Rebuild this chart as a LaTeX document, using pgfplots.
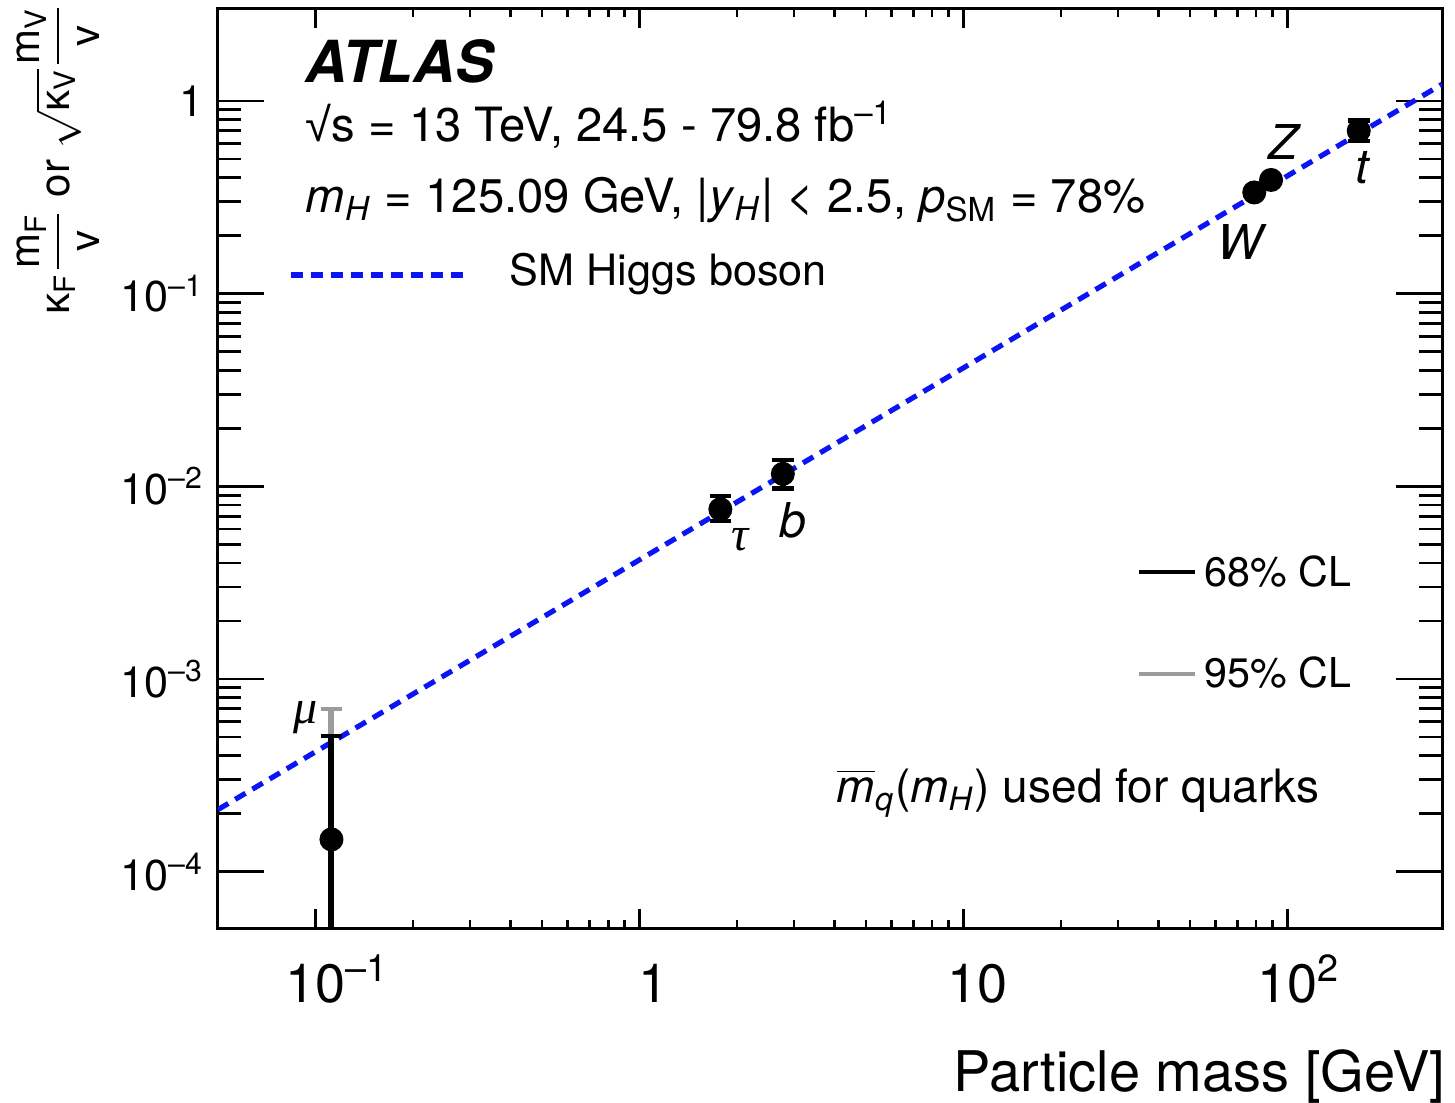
\documentclass[border=0pt]{standalone}
\usepackage{fontspec}
\setmainfont{TeX Gyre Heros}
\newfontfamily\gsans{Liberation Sans}
\newfontfamily\gserif{Liberation Serif}
\usepackage{amsmath}
\usepackage{pgfplots}
\pgfplotsset{compat=1.18}
\definecolor{smblue}{RGB}{10,20,245}
\definecolor{clgray}{RGB}{155,155,155}
\begin{document}
\begin{tikzpicture}
\useasboundingbox (-54.5pt,-43.5pt) rectangle (309.25pt,232pt);
\begin{axis}[
  at={(0,0)}, anchor=south west, scale only axis,
  width=306pt, height=229.75pt,
  xmode=log, ymode=log,
  xmin=0.05, xmax=300, ymin=5.1e-5, ymax=3,
  axis line style={line width=0.75pt},
  tick style={black, line width=0.7pt},
  major tick length=11.5pt, minor tick length=5.7pt,
  xtick style={/pgfplots/major tick length=4.75pt, /pgfplots/minor tick length=2pt},
  xtick={0.1,1,10,100},
  xticklabels={10\rlap{\textsuperscript{–1}}, \hspace*{7pt}1, \hspace*{7pt}10, 10\rlap{\textsuperscript{2}}},
  ytick={1e-4,1e-3,1e-2,1e-1,1},
  yticklabels={10\textsuperscript{–4},10\textsuperscript{–3},10\textsuperscript{–2},10\textsuperscript{–1},1},
  xticklabel style={anchor=base, yshift=-18.5pt, font=\fontsize{13.5}{14}\selectfont},
  yticklabel style={font=\fontsize{10.8}{12}\selectfont},
]
% SM Higgs boson line
\addplot[smblue, line width=1.3pt, dash pattern=on 3pt off 2pt] coordinates {(0.05,2.1e-4) (300,1.22)};
% muon 95% CL
\addplot[only marks, mark=none, error bars/.cd, y dir=plus, y explicit,
  error bar style={clgray, line width=1.5pt},
  error mark options={rotate=90, mark size=2.7pt, clgray, line width=1.2pt}]
  coordinates {(0.112,1.47e-4) += (0,5.51e-4)};
% muon 68% CL
\addplot[only marks, mark=*, mark size=2.8pt, black, mark options={fill=black},
  error bars/.cd, y dir=both, y explicit,
  error bar style={black, line width=1.5pt},
  error mark options={rotate=90, mark size=2.7pt, black, line width=1.2pt}]
  coordinates {(0.112,1.47e-4) += (0,3.59e-4) -= (0,1.46e-4)};
% tau, b, t
\addplot[only marks, mark=*, mark size=2.8pt, black, mark options={fill=black},
  error bars/.cd, y dir=both, y explicit,
  error bar style={black, line width=1.5pt},
  error mark options={rotate=90, mark size=2.7pt, black, line width=1.2pt}]
  coordinates {
  (1.777,7.6e-3) += (0,1.3e-3) -= (0,1.0e-3)
  (2.77,1.16e-2) += (0,2.1e-3) -= (0,1.9e-3)
  (166,0.70) += (0,0.09) -= (0,0.08)
  };
% W, Z
\addplot[only marks, mark=*, mark size=2.8pt, black, mark options={fill=black}]
  coordinates {(79,0.335) (89,0.389)};
\end{axis}
% annotations
\node[anchor=base west, inner sep=0pt, font=\fontsize{14.5}{16}\selectfont\bfseries\itshape] at (21.75pt,211.25pt) {ATLAS};
\node[anchor=base west, inner sep=0pt, font=\fontsize{11.8}{14}\selectfont] at (21.75pt,196.5pt) {{\gsans √}s = 13 TeV, 24.5 - 79.8 fb\textsuperscript{–1}};
\node[anchor=base west, inner sep=0pt, font=\fontsize{11.8}{14}\selectfont] at (21.75pt,178.75pt) {\textit{m}\textsubscript{\textit{H}} = 125.09 GeV, |\textit{y}\textsubscript{\textit{H}}| < 2.5, \textit{p}\textsubscript{SM} = 78\%};
\draw[smblue, line width=1.3pt, dash pattern=on 3pt off 2pt] (18.25pt,163.25pt) -- (62.5pt,163.25pt);
\node[anchor=base west, inner sep=0pt, font=\fontsize{10.8}{12}\selectfont] at (72.75pt,160.5pt) {SM Higgs boson};
\draw[black, line width=1pt] (230.25pt,89pt) -- (244.25pt,89pt);
\node[anchor=base west, inner sep=0pt, font=\fontsize{10.3}{12}\selectfont] at (246.5pt,85.25pt) {68\% CL};
\draw[clgray, line width=1.2pt] (230.25pt,63.5pt) -- (244.25pt,63.5pt);
\node[anchor=base west, inner sep=0pt, font=\fontsize{10.3}{12}\selectfont] at (246.5pt,60pt) {95\% CL};
\node[anchor=base west, inner sep=0pt, font=\fontsize{11.5}{14}\selectfont] at (154.5pt,31.25pt) {$\overline{\text{\textit{m}}}$\textsubscript{\textit{q}}(\textit{m}\textsubscript{\textit{H}}) used for quarks};
% particle labels
\node[font=\fontsize{12}{14}\selectfont\gserif\itshape] at (130.5pt,97pt) {τ};
\node[font=\fontsize{12}{14}\selectfont\itshape] at (143.75pt,102pt) {b};
\node[font=\fontsize{12}{14}\selectfont\itshape] at (255.5pt,171.5pt) {W};
\node[font=\fontsize{12}{14}\selectfont\itshape] at (266.25pt,196.5pt) {Z};
\node[font=\fontsize{12}{14}\selectfont\itshape] at (286pt,190pt) {t};
\node[font=\fontsize{12}{14}\selectfont\gserif\itshape] at (22pt,52.5pt) {μ};
% axis title
\node[anchor=base east, inner sep=0pt, font=\fontsize{14}{16}\selectfont] at (307pt,-41pt) {Particle mass [GeV]};
\node[rotate=90, anchor=east, inner sep=0pt, font=\fontsize{10.5}{12}\selectfont] at (-40pt,231.5pt)
  {$\text{\gsans κ}_{\text{F}}\dfrac{\text{m}_{\text{F}}}{\text{v}}$ or $\sqrt{\text{\gsans κ}_{\text{V}}}\dfrac{\text{m}_{\text{V}}}{\text{v}}$};
\end{tikzpicture}
\end{document}
